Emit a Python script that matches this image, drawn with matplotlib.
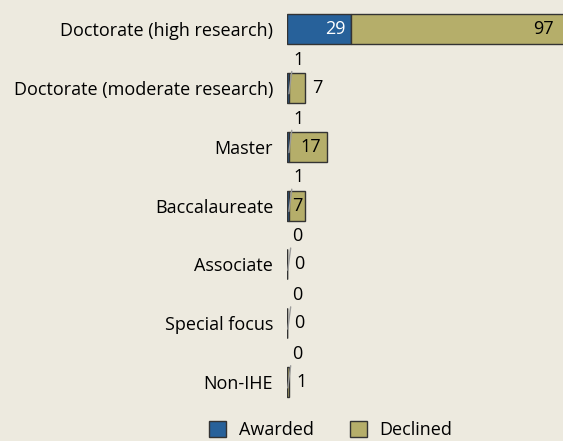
import matplotlib.pyplot as plt
import numpy as np

plt.rcParams['font.family'] = ['Open Sans', 'DejaVu Sans']

# data
categories = ['Doctorate (high research)', 'Doctorate (moderate research)', 'Master',
              'Baccalaureate', 'Associate', 'Special focus', 'Non-IHE']
awarded = [29, 1, 1, 1, 0, 0, 0]
declined = [97, 7, 17, 7, 0, 0, 1]
# where the declined label goes: inside-right, inside-centre or outside
declined_pos = ['in', 'out', 'in', 'center', 'out', 'out', 'out']

bg = '#EDEADF'
blue = '#27619A'
olive = '#B5AE6A'
edge = '#333333'
fs = 13

fig = plt.figure(figsize=(5.63, 4.41), dpi=100, facecolor=bg)
ax = fig.add_axes([0.51, 0.067, 0.49, 0.934])
ax.set_facecolor(bg)

y = np.arange(len(categories))
ax.barh(y, awarded, height=0.51, color=blue, edgecolor=edge, linewidth=1, label='Awarded')
ax.barh(y, declined, left=awarded, height=0.51, color=olive, edgecolor=edge, linewidth=1,
        label='Declined')

xmax = 124.5
ax.set_xlim(0, xmax)
ax.set_ylim(6.5, -0.5)
ax.set_yticks(y)
ax.set_yticklabels(categories, fontsize=fs)
ax.tick_params(axis='y', length=0, pad=10)
ax.set_xticks([])
for s in ax.spines.values():
    s.set_visible(False)

for i in range(len(categories)):
    a, d = awarded[i], declined[i]
    # awarded labels
    if a >= 10:
        ax.annotate(str(a), (a, i), xytext=(-4, 0), textcoords='offset points',
                    ha='right', va='center', color='white', fontsize=fs)
    else:
        ax.annotate(str(a), (a * 0.5 + 0.3, i + 0.1), xytext=(3, 18), textcoords='offset points',
                    ha='left', va='bottom', color='black', fontsize=fs,
                    arrowprops=dict(arrowstyle='-', color='#9a9a9a', lw=1.0,
                                    shrinkA=0, shrinkB=0, relpos=(0.0, 0.4)))
    end = a + d
    mode = declined_pos[i]
    if mode == 'in':
        ax.annotate(str(d), (min(end, xmax - 1.5), i), xytext=(-4, 0), textcoords='offset points',
                    ha='right', va='center', color='black', fontsize=fs)
    elif mode == 'center':
        ax.annotate(str(d), (a + d / 2, i), ha='center', va='center', color='black', fontsize=fs)
    else:
        ax.annotate(str(d), (end, i), xytext=(5, 0), textcoords='offset points',
                    ha='left', va='center', color='black', fontsize=fs)

fig.legend(loc='center', bbox_to_anchor=(0.587, 0.024), ncol=2, frameon=False, fontsize=fs,
           handlelength=0.95, handleheight=0.95, columnspacing=2.0, handletextpad=0.7,
           borderpad=0.1)

fig.savefig('out.png', dpi=100, facecolor=bg)
